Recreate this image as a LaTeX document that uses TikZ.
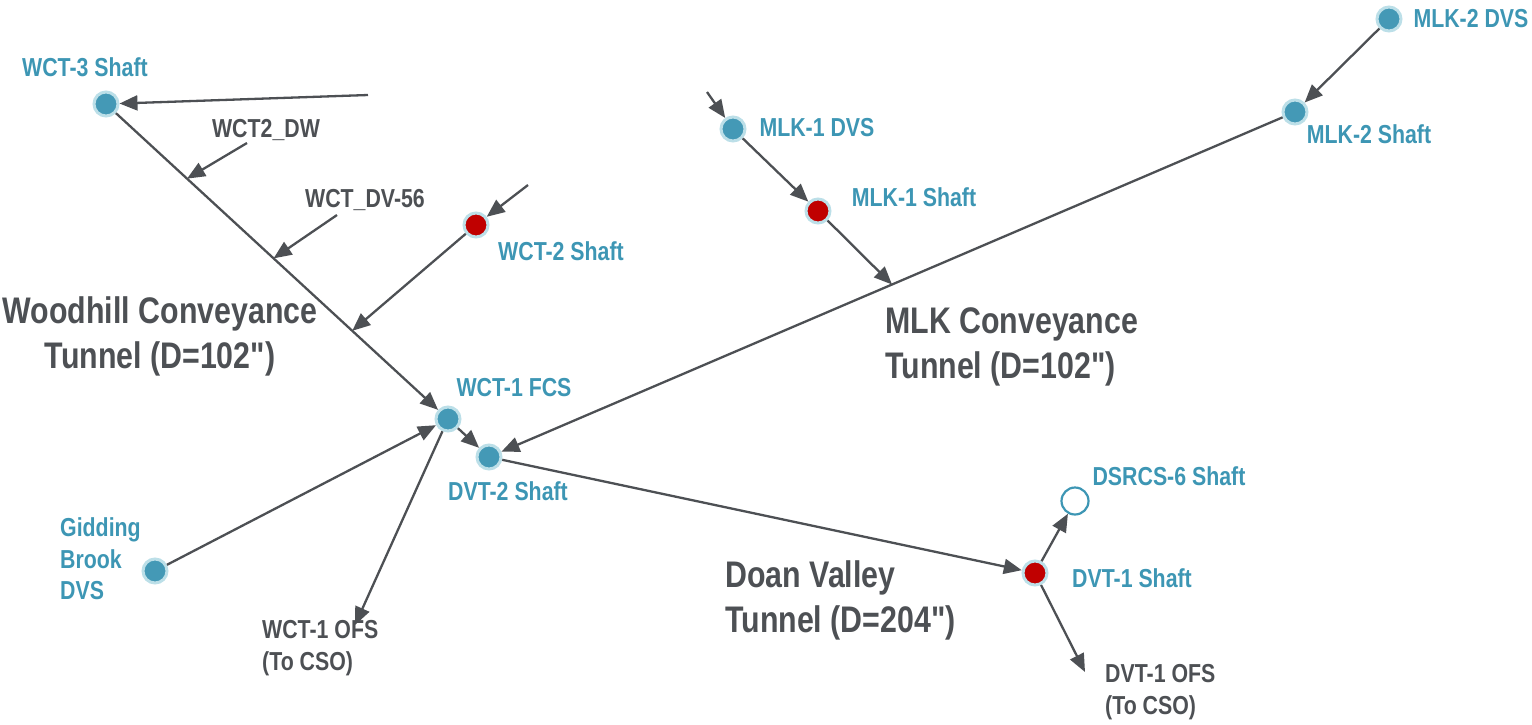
\documentclass[tikz,border=0pt]{standalone}
\usepackage{fontspec}
\newfontfamily\labelfont{Liberation Sans}[FakeStretch=0.82]
\usetikzlibrary{arrows.meta,calc}
\definecolor{tblue}{HTML}{3D96B4}
\definecolor{nblue}{HTML}{4499B6}
\definecolor{halo}{HTML}{BCDFE8}
\definecolor{nred}{HTML}{C00000}
\definecolor{lgrey}{HTML}{4D5054}
\begin{document}
\begin{tikzpicture}[x=1pt,y=-1pt,
  shaft/.style={circle,minimum size=24pt,inner sep=0pt,fill=nblue,draw=halo,line width=3pt},
  redshaft/.style={shaft,fill=nred},
  openshaft/.style={circle,minimum size=27pt,inner sep=0pt,fill=white,draw=tblue,line width=2.2pt},
  blab/.style={text=tblue,font=\labelfont\fontsize{26}{31.5}\selectfont\bfseries,inner sep=0pt},
  dlab/.style={text=lgrey,font=\labelfont\fontsize{26}{31.5}\selectfont\bfseries,inner sep=0pt},
  biglab/.style={text=lgrey,font=\labelfont\fontsize{37}{45}\selectfont\bfseries,inner sep=0pt},
  flow/.style={draw=lgrey,line width=2.3pt,-{Triangle[length=18pt,width=15pt]}}]
\path[use as bounding box] (0,0) rectangle (1532,724);

% nodes
\node[shaft] (wct3) at (106,104) {};
\node[redshaft] (wct2) at (476,225) {};
\node[shaft] (wct1) at (448,419) {};
\node[shaft] (dvt2) at (489,457) {};
\node[shaft] (gbdvs) at (155,571) {};
\node[shaft] (mlk1dvs) at (733,129) {};
\node[redshaft] (mlk1) at (818,211) {};
\node[shaft] (mlk2dvs) at (1389,19) {};
\node[shaft] (mlk2) at (1295,112) {};
\node[redshaft] (dvt1) at (1035,573) {};
\node[openshaft] (dsrcs) at (1075,501) {};

% labels
\node[blab] (l_wct3) at (85,67) {WCT-3 Shaft};
\node[blab] (l_wct2) at (561,251) {WCT-2 Shaft};
\node[blab] (l_wct1) at (514,388) {WCT-1 FCS};
\node[blab] (l_dvt2) at (508,491) {DVT-2 Shaft};
\node[blab,anchor=west,align=left] (l_gb) at (60,559) {Gidding\\Brook\\DVS};
\node[blab] (l_mlk1dvs) at (817,128) {MLK-1 DVS};
\node[blab] (l_mlk1) at (914,197) {MLK-1 Shaft};
\node[blab] (l_mlk2dvs) at (1471,19) {MLK-2 DVS};
\node[blab] (l_mlk2) at (1369,134) {MLK-2 Shaft};
\node[blab] (l_dsrcs) at (1169,476) {DSRCS-6 Shaft};
\node[blab] (l_dvt1) at (1132,578) {DVT-1 Shaft};

\node[dlab] (l_dw) at (266,130) {WCT2\_DW};
\node[dlab] (l_dv56) at (365,200) {WCT\_DV-56};
\node[dlab,anchor=west,align=left] (l_wofs) at (262,648) {WCT-1 OFS\\(To CSO)};
\node[dlab,anchor=west,align=left] (l_dofs) at (1105,692) {DVT-1 OFS\\(To CSO)};

\node[biglab,align=center] (l_woodhill) at (160,336) {Woodhill Conveyance\\Tunnel (D=102")};
\node[biglab,anchor=west,align=left] (l_mlkt) at (885,347) {MLK Conveyance\\Tunnel (D=102")};
\node[biglab,anchor=west,align=left] (l_doan) at (725,600) {Doan Valley\\Tunnel (D=204")};

% free ends
\coordinate (c3in) at (368,95);
\coordinate (dwstart) at (247,143);
\coordinate (dvstart) at (337,215);
\coordinate (c2in) at (528,185);
\coordinate (m1in) at (707,92);
\coordinate (wofs) at (355,625);
\coordinate (dofs) at (1085,672);
\coordinate (dwtip) at ($(wct3)!0.237!(wct1)$);
\coordinate (dvtip) at ($(wct3)!0.49!(wct1)$);
\coordinate (w2tip) at ($(wct3)!0.72!(wct1)$);
\coordinate (m1tip) at ($(mlk2)!0.5!(dvt2)$);

% connectors
\draw[flow] (c3in) -- (wct3);
\draw[flow] (wct3) -- (wct1);
\draw[flow] (dwstart) -- (dwtip);
\draw[flow] (dvstart) -- (dvtip);
\draw[flow] (c2in) -- (wct2);
\draw[flow] (wct2) -- (w2tip);
\draw[flow] (gbdvs) -- (wct1);
\draw[flow] (wct1) -- (wofs);
\draw[flow] (wct1) -- (dvt2);
\draw[flow] (mlk2) -- (dvt2);
\draw[flow] (mlk2dvs) -- (mlk2);
\draw[flow] (m1in) -- (mlk1dvs);
\draw[flow] (mlk1dvs) -- (mlk1);
\draw[flow] (mlk1) -- (m1tip);
\draw[flow] (dvt2) -- (dvt1);
\draw[flow] (dvt1) -- (dsrcs);
\draw[flow] (dvt1) -- (dofs);
\end{tikzpicture}
\end{document}
